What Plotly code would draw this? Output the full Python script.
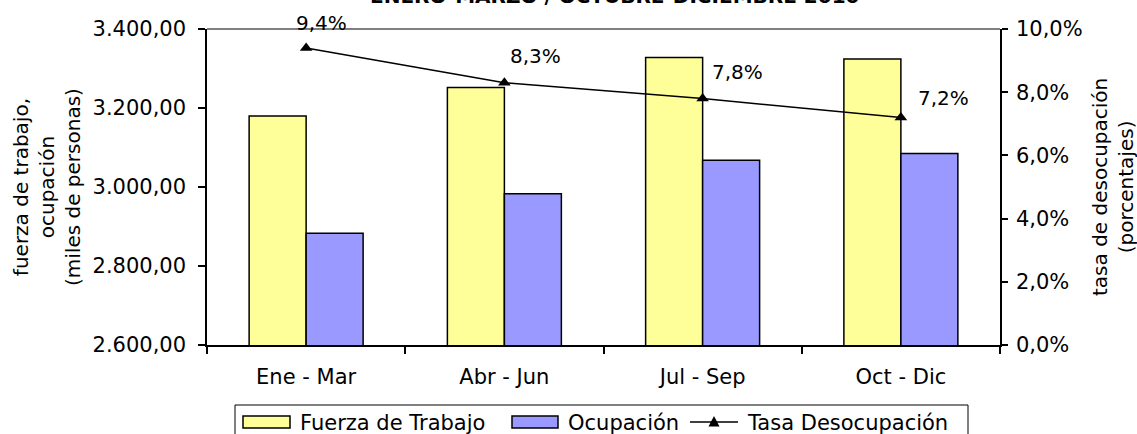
import plotly.graph_objects as go

# ---- data ----
categories = ["Ene - Mar", "Abr - Jun", "Jul - Sep", "Oct - Dic"]
fuerza_trabajo = [3180, 3252, 3328, 3324]
ocupacion = [2883, 2983, 3068, 3085]
tasa_desocupacion = [9.4, 8.3, 7.8, 7.2]
series_names = ["Fuerza de Trabajo", "Ocupación", "Tasa Desocupación"]
title_text = "ENERO-MARZO / OCTUBRE-DICIEMBRE 2010"
left_title = "fuerza de trabajo,<br>ocupación<br>(miles de personas)"
right_title = "tasa de desocupación<br>(porcentajes)"

# ---- layout geometry (pixels) ----
W, H = 1137, 434
L, R, T, B = 207, 1000, 29, 345   # plot area
FONT = "DejaVu Sans"

def px(x):
    return (x - L) / (R - L)

def py(y):
    return (B - y) / (B - T)

YELLOW = "#FFFF99"
BLUE = "#9999FF"

fig = go.Figure()
fig.add_trace(go.Bar(x=categories, y=fuerza_trabajo, name=series_names[0],
                     marker=dict(color=YELLOW, line=dict(color="black", width=1.5)),
                     showlegend=False))
fig.add_trace(go.Bar(x=categories, y=ocupacion, name=series_names[1],
                     marker=dict(color=BLUE, line=dict(color="black", width=1.5)),
                     showlegend=False))
fig.add_trace(go.Scatter(x=categories, y=tasa_desocupacion, name=series_names[2],
                         yaxis="y2", mode="lines+markers",
                         line=dict(color="black", width=1.5),
                         marker=dict(symbol="triangle-up", size=11, color="black"),
                         showlegend=False))

# data labels for the line
offsets = [(15, 25), (31, 27), (35, 27), (43, 19)]
for c, v, (dx, dy) in zip(categories, tasa_desocupacion, offsets):
    fig.add_annotation(x=c, y=v, xref="x", yref="y2",
                       text=f"{v:.1f}%".replace(".", ","),
                       showarrow=False, xshift=dx, yshift=dy,
                       font=dict(family=FONT, size=20, color="black"))

# title (partly cut at top, as in the reference)
fig.add_annotation(x=px(614), y=1, xref="paper", yref="paper",
                   text=f"<b>{title_text}</b>", showarrow=False,
                   xanchor="center", yanchor="bottom", yshift=19,
                   font=dict(family=FONT, size=20, color="black"))

# axis titles
fig.add_annotation(x=px(47), y=0.5, xref="paper", yref="paper", text=left_title,
                   textangle=-90, showarrow=False, xanchor="center", yanchor="middle",
                   font=dict(family=FONT, size=20, color="black"))
fig.add_annotation(x=px(1113), y=0.5, xref="paper", yref="paper", text=right_title,
                   textangle=-90, showarrow=False, xanchor="center", yanchor="middle",
                   font=dict(family=FONT, size=20, color="black"))

# top border line (gray)
fig.add_shape(type="line", xref="paper", yref="paper", x0=0, x1=1, y0=1, y1=1,
              line=dict(color="#808080", width=2))

# custom legend
fig.add_shape(type="rect", xref="paper", yref="paper",
              x0=px(235), x1=px(968), y0=py(405), y1=py(450),
              line=dict(color="black", width=1), fillcolor="white", layer="above")
leg_y = 422
fig.add_shape(type="rect", xref="paper", yref="paper",
              x0=px(243), x1=px(290), y0=py(416), y1=py(428),
              line=dict(color="black", width=1.5), fillcolor=YELLOW, layer="above")
fig.add_shape(type="rect", xref="paper", yref="paper",
              x0=px(512), x1=px(558), y0=py(416), y1=py(428),
              line=dict(color="black", width=1.5), fillcolor=BLUE, layer="above")
fig.add_shape(type="line", xref="paper", yref="paper",
              x0=px(690), x1=px(738), y0=py(leg_y), y1=py(leg_y),
              line=dict(color="black", width=1.5), layer="above")
tx, ty = 714, leg_y
fig.add_shape(type="path", xref="paper", yref="paper",
              path=f"M {px(tx-5.5)},{py(ty+4.5)} L {px(tx+5.5)},{py(ty+4.5)} L {px(tx)},{py(ty-6)} Z",
              line=dict(color="black", width=0), fillcolor="black", layer="above")
for name, x0 in zip(series_names, [298, 566, 745]):
    fig.add_annotation(x=px(x0), y=py(423), xref="paper", yref="paper", text=name,
                       showarrow=False, xanchor="left", yanchor="middle",
                       font=dict(family=FONT, size=21, color="black"))

fig.update_layout(
    width=W, height=H,
    margin=dict(l=L, r=W - R, t=T, b=H - B, autoexpand=False),
    paper_bgcolor="white", plot_bgcolor="white",
    barmode="group", bargap=0.425, bargroupgap=0,
    separators=",.",
    font=dict(family=FONT, size=21, color="black"),
    showlegend=False,
    xaxis=dict(showline=True, linecolor="black", linewidth=1.5,
               ticks="outside", ticklen=7, tickcolor="black", tickwidth=1.5,
               tickson="boundaries", showgrid=False, ticklabelstandoff=12,
               tickfont=dict(family=FONT, size=21)),
    yaxis=dict(range=[2600, 3400], dtick=200, tickformat=",.2f",
               showline=True, linecolor="black", linewidth=1.5,
               ticks="outside", ticklen=7, tickcolor="black", tickwidth=1.5,
               showgrid=False, zeroline=False, ticklabelstandoff=8,
               tickfont=dict(family=FONT, size=21)),
    yaxis2=dict(range=[0, 10], dtick=2, tickformat=".1f", ticksuffix="%",
                overlaying="y", side="right",
                showline=True, linecolor="black", linewidth=1.5,
                ticks="outside", ticklen=6, tickcolor="black", tickwidth=1.5,
                showgrid=False, zeroline=False, ticklabelstandoff=4,
                tickfont=dict(family=FONT, size=21)),
)

fig.write_html("out.html",
               config={"displayModeBar": False},
               post_script="document.body.style.margin='0px';document.body.style.overflow='hidden';")
